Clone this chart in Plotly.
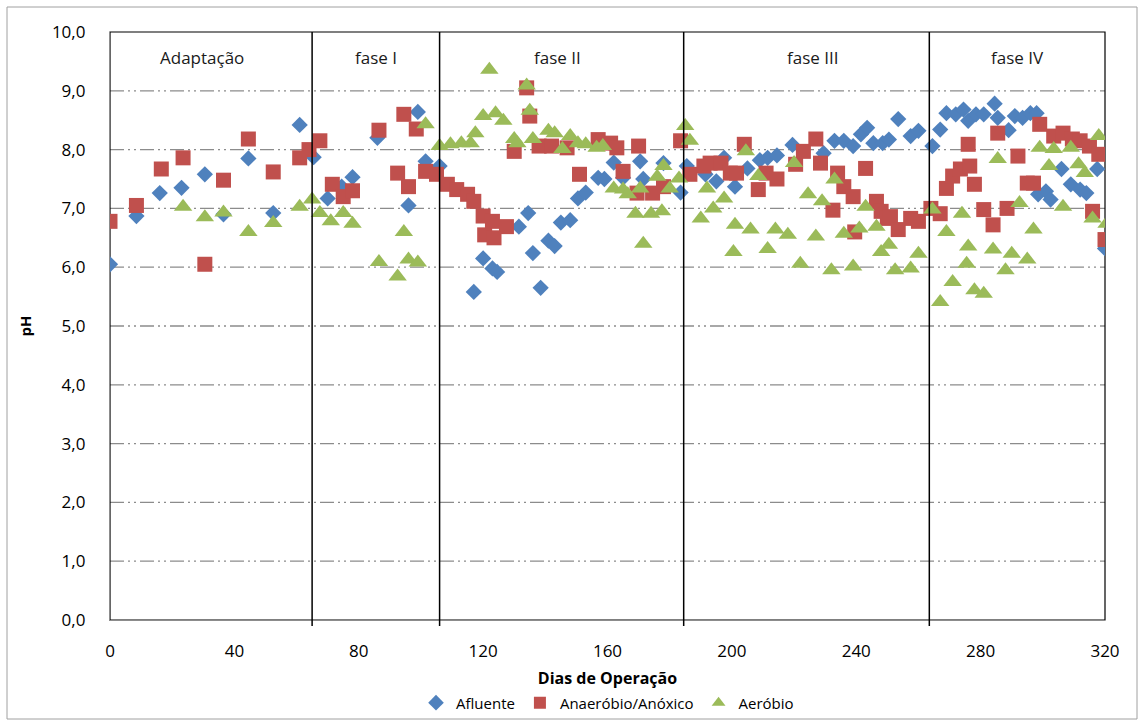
import plotly.graph_objects as go

# ---------------- data ----------------
afl_x = [0, 8.5, 16, 23, 30.5, 36.5, 44.5, 52.5, 61, 65.5, 70, 74.5, 78, 86, 96, 99, 101.5, 106,
         117, 120, 123, 124.5, 131.5, 134.5, 136, 138.5, 141, 143, 145, 148, 150.5, 153, 157, 159,
         162, 165, 170.5, 171.5, 178, 183.5, 185.5, 191.5, 195, 197.5, 201, 205, 209, 211.5, 214.5,
         219.5, 229.5, 233, 236, 239, 241.5, 243.5, 245.5, 248.5, 250.5, 253.5, 257.5, 260, 264.5,
         267, 269, 272, 274.5, 276, 278.5, 281, 284.5, 285.5, 289, 291, 293.5, 296, 298, 298.5,
         301, 302.5, 306, 309, 312, 314, 317.5, 320]
afl_y = [6.05, 6.87, 7.26, 7.35, 7.58, 6.9, 7.85, 6.92, 8.42, 7.87, 7.17, 7.37, 7.53, 8.2, 7.05, 8.64, 7.8, 7.72,
         5.58, 6.15, 5.98, 5.92, 6.69, 6.92, 6.24, 5.65, 6.45, 6.36, 6.76, 6.8, 7.17, 7.27, 7.52, 7.5,
         7.78, 7.52, 7.8, 7.5, 7.77, 7.27, 7.72, 7.58, 7.46, 7.86, 7.37, 7.68, 7.82, 7.86, 7.9,
         8.08, 7.94, 8.15, 8.15, 8.06, 8.26, 8.37, 8.11, 8.11, 8.17, 8.52, 8.23, 8.32, 8.06,
         8.34, 8.62, 8.6, 8.68, 8.49, 8.6, 8.6, 8.78, 8.54, 8.33, 8.57, 8.54, 8.62, 8.62, 7.24,
         7.29, 7.15, 7.67, 7.41, 7.32, 7.26, 7.67, 6.32]

ana_x = [0, 8.5, 16.5, 23.5, 30.5, 36.5, 44.5, 52.5, 61, 64, 67.5, 71.5, 75, 78, 86.5, 92.5, 94.5, 96,
         98.5, 101.5, 105, 108.5, 111.5, 115, 117, 120, 120.5, 123, 123.5, 127.5, 130, 134, 135, 138,
         142, 147, 151, 157, 161, 163, 165, 169.5, 170, 174.5, 178, 183.5, 186.5, 191, 193, 196.5,
         199.5, 201.5, 204, 208.5, 211, 214.5, 220.5, 223, 227, 228.5, 232.5, 234, 236, 239, 239.5,
         243, 246.5, 248, 250, 251, 253.5, 257.5, 260, 264, 267, 269, 271, 273.5, 276, 276.5, 278,
         281, 284, 285.5, 288.5, 292, 295, 297, 299, 303.5, 306.5, 309.5, 312, 315, 316, 318, 320]
ana_y = [6.78, 7.05, 7.67, 7.86, 6.05, 7.48, 8.18, 7.62, 7.86, 8.0, 8.15, 7.41, 7.2, 7.3, 8.33, 7.6, 8.6, 7.37,
         8.35, 7.63, 7.58, 7.41, 7.32, 7.24, 7.12, 6.87, 6.55, 6.78, 6.5, 6.69, 7.97, 9.05, 8.57, 8.06,
         8.06, 8.03, 7.58, 8.17, 8.11, 8.03, 7.63, 7.26, 8.06, 7.26, 7.37, 8.15, 7.58, 7.72, 7.77, 7.77,
         7.6, 7.6, 8.09, 7.32, 7.6, 7.5, 7.75, 7.97, 8.18, 7.77, 6.97, 7.6, 7.37, 7.2, 6.6,
         7.68, 7.12, 6.95, 6.83, 6.86, 6.64, 6.83, 6.78, 7.0, 6.91, 7.34, 7.55, 7.67, 8.09, 7.72, 7.41,
         6.98, 6.72, 8.28, 7.0, 7.89, 7.43, 7.43, 8.43, 8.23, 8.28, 8.18, 8.15, 8.06, 6.95, 7.92, 6.47]

aer_x = [23.5, 30.5, 36.5, 44.5, 52.5, 61, 65, 67.5, 71, 75, 78, 86.5, 92.5, 94.5, 96, 99, 101.5, 106,
         109.5, 113, 116, 117.5, 120, 122, 124, 126.5, 130, 131, 134, 135, 136, 141, 143, 145.5, 148,
         150.5, 153, 156.5, 158.5, 162, 165, 166.5, 169, 170.5, 171.5, 174, 176, 177.5, 178, 180,
         183, 185, 186.5, 190, 192, 194, 197.5, 200.5, 201, 204.5, 206, 208.5, 211.5, 214, 218, 220,
         222, 224.5, 227, 229, 232, 233, 236, 239, 241, 243, 246.5, 248, 250.5, 252.5, 257.5, 260,
         264.5, 267, 269, 271, 274, 275.5, 276, 278, 281, 284, 285.5, 288, 290, 292.5, 295, 297, 299,
         302, 303.5, 306.5, 309, 311.5, 313.5, 316, 318, 320.5]
aer_y = [7.03, 6.85, 6.93, 6.6, 6.75, 7.03, 7.15, 6.92, 6.78, 6.92, 6.74, 6.09, 5.84, 6.6, 6.13, 6.08, 8.43, 8.06,
         8.09, 8.11, 8.11, 8.28, 8.57, 9.36, 8.62, 8.49, 8.18, 8.11, 9.09, 8.66, 8.18, 8.32, 8.28, 8.01, 8.23,
         8.11, 8.09, 8.03, 8.06, 7.34, 7.32, 7.24, 6.91, 7.34, 6.4, 6.91, 7.54, 6.95, 7.72, 7.34,
         7.51, 8.4, 8.15, 6.83, 7.34, 7.0, 7.17, 6.26, 6.72, 7.97, 6.64, 7.55, 6.31, 6.64, 6.55, 7.77,
         6.06, 7.24, 6.52, 7.12, 5.95, 7.49, 6.57, 6.01, 6.66, 7.03, 6.69, 6.26, 6.38, 5.95, 5.98, 6.23,
         6.98, 5.41, 6.6, 5.75, 6.91, 6.06, 6.35, 5.61, 5.55, 6.3, 7.84, 5.95, 6.23, 7.09, 6.13, 6.64, 8.03,
         7.72, 8.01, 7.03, 8.03, 7.75, 7.6, 6.83, 8.23, 6.74]

phase_bounds = [65, 106, 184.5, 263.5]
phase_labels = ["Adaptação", "fase I", "fase II", "fase III", "fase IV"]
phase_label_x = [29.5, 85.5, 144, 226, 292]

x_ticks = [0, 40, 80, 120, 160, 200, 240, 280, 320]
y_ticks = [0, 1, 2, 3, 4, 5, 6, 7, 8, 9, 10]

# ---------------- figure ----------------
FONT = "Open Sans, Noto Sans, Liberation Sans, sans-serif"
fig = go.Figure()
fig.add_trace(go.Scatter(x=afl_x, y=afl_y, mode="markers", name="Afluente",
                         marker=dict(symbol="diamond", size=12.5, color="#4F81BD")))
fig.add_trace(go.Scatter(x=ana_x, y=ana_y, mode="markers", name="Anaeróbio/Anóxico",
                         marker=dict(symbol="square", size=15, color="#C0504D")))
fig.add_trace(go.Scatter(x=aer_x, y=aer_y, mode="markers", name="Aeróbio",
                         marker=dict(symbol="triangle-up", size=16, color="#9BBB59")))

L, R, T, B = 110, 36, 32, 102
W, H = 1141, 722
pw, ph = W - L - R, H - T - B

shapes = []
# horizontal dash-dot-dot gridlines
for v in y_ticks[1:-1]:
    shapes.append(dict(type="line", xref="paper", yref="y", x0=0, x1=1, y0=v, y1=v,
                       line=dict(color="#8c8c8c", width=1.3, dash="14px,4px,2px,4px,2px,4px"),
                       layer="below"))
# phase separators
for b in phase_bounds:
    shapes.append(dict(type="line", xref="x", yref="paper", x0=b, x1=b, y0=-6 / ph, y1=1,
                       line=dict(color="black", width=1.5)))
# plot border
shapes.append(dict(type="rect", xref="paper", yref="paper", x0=0, x1=1, y0=0, y1=1,
                   line=dict(color="black", width=1.2), layer="below"))
# outer chart border
shapes.append(dict(type="rect", xref="paper", yref="paper",
                   x0=(7 - L) / pw, x1=(W - 4 - L) / pw,
                   y0=-(B - 3) / ph, y1=1 + (T - 7) / ph,
                   line=dict(color="#a0a0a0", width=1), layer="below"))

annotations = []
for lbl, lx in zip(phase_labels, phase_label_x):
    annotations.append(dict(x=lx, y=9.56, xref="x", yref="y", text=lbl, showarrow=False,
                            font=dict(family=FONT, size=17, color="#1a1a1a")))

fig.update_layout(
    width=W, height=H,
    margin=dict(l=L, r=R, t=T, b=B, autoexpand=False),
    paper_bgcolor="white", plot_bgcolor="white",
    separators=",.",
    font=dict(family=FONT, size=16, color="black"),
    showlegend=True,
    legend=dict(orientation="h", x=0.5, xanchor="center", y=-0.141, yanchor="middle",
                font=dict(family=FONT, size=15), itemwidth=30, tracegroupgap=0,
                itemsizing="constant", bgcolor="rgba(0,0,0,0)"),
    shapes=shapes,
    annotations=annotations,
    xaxis=dict(range=[0, 320], tickvals=x_ticks, showgrid=False, zeroline=False,
               showline=True, linecolor="#8c8c8c", linewidth=1.3, ticks="",
               tickfont=dict(family=FONT, size=17), ticklabelstandoff=15,
               title=dict(text="<b>Dias de Operação</b>", font=dict(family=FONT, size=16), standoff=12)),
    yaxis=dict(range=[0, 10], tickvals=y_ticks, tickformat=".1f", showgrid=False, zeroline=False,
               showline=True, linecolor="#8c8c8c", linewidth=1.3, ticks="",
               tickfont=dict(family=FONT, size=17), ticklabelstandoff=20,
               title=dict(text="<b>pH</b>", font=dict(family=FONT, size=15), standoff=16)),
)

fig.write_html("out.html", config={"displayModeBar": False},
               post_script="document.body.style.margin='0';document.body.style.padding='0';")
